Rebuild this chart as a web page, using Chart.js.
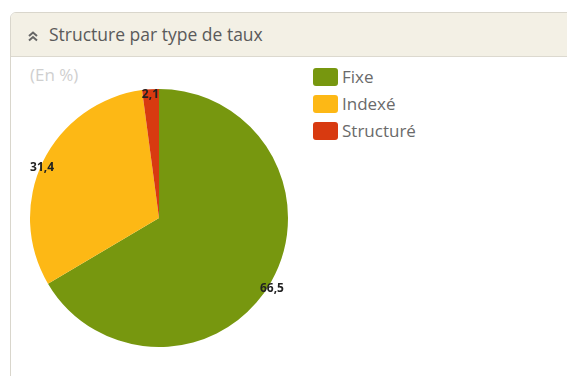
<!DOCTYPE html>
<html>
<head>
<meta charset="utf-8">
<script src="https://cdn.jsdelivr.net/npm/chart.js@4"></script>
<style>
  body { margin: 0; background: #fff; font-family: "Open Sans", sans-serif; }
  .card { position: absolute; left: 10px; top: 12px; width: 580px; height: 400px;
          border: 1px solid #d9d6cc; border-radius: 6px; background: #fff; overflow: hidden; }
  .head { height: 43px; background: #f3f0e5; border-bottom: 1px solid #dcd9cf;
          color: #5a5a5a; font-size: 17.5px; line-height: 42px; padding-left: 17px; }
  .head svg { vertical-align: -1px; margin-right: 11px; }
  .unit { position: absolute; left: 19px; top: 50px; color: #cfcfcf; font-size: 17px; }
  .wrap { position: absolute; left: 17px; top: 75px; width: 262px; height: 260px; }
  .legend { position: absolute; left: 302px; top: 50px; font-size: 17px; color: #6a6a6a; }
  .legend div { height: 27px; display: flex; align-items: center; }
  .legend i { display: inline-block; width: 25px; height: 18px; border-radius: 3px; margin-right: 4px; }
</style>
</head>
<body>
<div class="card">
  <div class="head"><svg width="10" height="11" viewBox="0 0 10 11"><path d="M1 5 L5 1.5 L9 5 M1 9.5 L5 6 L9 9.5" stroke="#666" stroke-width="2" fill="none"/></svg>Structure par type de taux</div>
  <div class="unit">(En %)</div>
  <div class="wrap"><canvas id="pie"></canvas></div>
  <div class="legend" id="legend"></div>
</div>
<script>
const categories = ['Fixe', 'Indexé', 'Structuré'];
const values = [66.5, 31.4, 2.1];
const colors = ['#77970f', '#fdb815', '#d83a10'];

const legend = document.getElementById('legend');
categories.forEach(function (c, i) {
    const row = document.createElement('div');
    row.innerHTML = '<i style="background:' + colors[i] + '"></i>' + c;
    legend.appendChild(row);
});

const edgeLabels = {
    id: 'edgeLabels',
    afterDatasetsDraw(chart) {
        const ctx = chart.ctx;
        const meta = chart.getDatasetMeta(0);
        ctx.save();
        ctx.font = 'bold 12px "Open Sans", sans-serif';
        ctx.fillStyle = '#222';
        ctx.textAlign = 'center';
        ctx.textBaseline = 'middle';
        meta.data.forEach(function (arc, i) {
            const p = arc.getProps(['x', 'y', 'startAngle', 'endAngle', 'outerRadius'], true);
            const a = (p.startAngle + p.endAngle) / 2;
            const r = p.outerRadius + 1;
            ctx.fillText(values[i].toFixed(1).replace('.', ','), p.x + Math.cos(a) * r, p.y + Math.sin(a) * r + 6);
        });
        ctx.restore();
    }
};

new Chart(document.getElementById('pie').getContext('2d'), {
    type: 'pie',
    data: {
        labels: categories,
        datasets: [{ data: values, backgroundColor: colors, borderWidth: 0 }]
    },
    options: {
        responsive: true,
        maintainAspectRatio: false,
        animation: false,
        layout: { padding: 1 },
        plugins: { legend: { display: false }, tooltip: { enabled: false } }
    },
    plugins: [edgeLabels]
});
</script>
</body>
</html>
